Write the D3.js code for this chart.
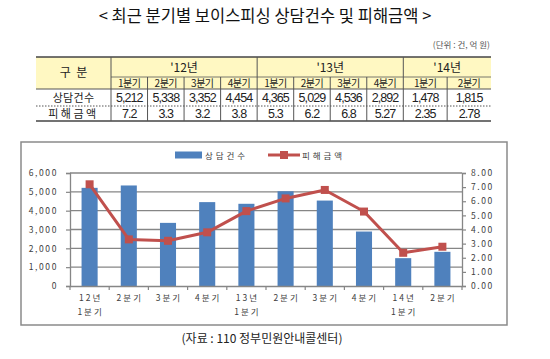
<!DOCTYPE html>
<html><head><meta charset="utf-8">
<script src="https://cdn.jsdelivr.net/npm/d3@7"></script>
<style>
html,body{margin:0;padding:0;background:#fff;}
svg{display:block;font-family:"Noto Sans CJK KR","Noto Sans",sans-serif;}
</style></head>
<body><svg id="c" width="550" height="359"></svg>
<script>
// ---- data ----
const title = "< 최근 분기별 보이스피싱 상담건수 및 피해금액 >";
const unitNote = "(단위 : 건, 억 원)";
const source = "(자료 : 110 정부민원안내콜센터)";
const years = ["'12년", "'13년", "'14년"];
const yearSpans = [4, 4, 2];
const quarters = ["1분기","2분기","3분기","4분기","1분기","2분기","3분기","4분기","1분기","2분기"];
const counts = [5212, 5338, 3352, 4454, 4365, 5029, 4536, 2892, 1478, 1815];
const countLabels = ["5,212","5,338","3,352","4,454","4,365","5,029","4,536","2,892","1,478","1,815"];
const damages = [7.2, 3.3, 3.2, 3.8, 5.3, 6.2, 6.8, 5.27, 2.35, 2.78];
const damageLabels = ["7.2","3.3","3.2","3.8","5.3","6.2","6.8","5.27","2.35","2.78"];
const rowNames = ["상담건수", "피해금액"];
const headName = "구  분";
const axisCats = [["12년","1분기"],["2분기"],["3분기"],["4분기"],["13년","1분기"],["2분기"],["3분기"],["4분기"],["14년","1분기"],["2분기"]];
const leftTicks = [0,1000,2000,3000,4000,5000,6000];
const rightTicks = [0,1,2,3,4,5,6,7,8];
const seriesNames = ["상 담 건 수", "피 해 금 액"];

const svg = d3.select("#c");
const blue = "#4F81BD", red = "#C0504D";
const numFont = "'Liberation Sans Narrow','Liberation Sans',Arial,sans-serif";

// ---- title ----
svg.append("text").attr("x", 265).attr("y", 22).attr("text-anchor","middle")
  .attr("font-size", 16.5).attr("fill","#111").text(title);
svg.append("text").attr("x", 490).attr("y", 48).attr("text-anchor","end")
  .attr("font-size", 8.5).attr("fill","#555").text(unitNote);

// ---- table ----
const tX0 = 36, tX1 = 491, c0 = 111;
const rowY = [57, 77, 89, 106, 121];
const colW = [1,1,1,1,1,1,1,1,1.2,1.2];
const totW = d3.sum(colW);
const colEdges = [c0];
colW.forEach((w,i)=>colEdges.push(colEdges[i] + w/totW*(tX1-c0)));
const tg = svg.append("g");
tg.append("rect").attr("x",tX0).attr("y",rowY[0]).attr("width",tX1-tX0).attr("height",rowY[2]-rowY[0]).attr("fill","#FFF8C2");
const lineC = "#555";
tg.append("line").attr("x1",tX0).attr("x2",tX1).attr("y1",rowY[0]).attr("y2",rowY[0]).attr("stroke","#444").attr("stroke-width",1.6);
tg.append("line").attr("x1",c0).attr("x2",tX1).attr("y1",rowY[1]).attr("y2",rowY[1]).attr("stroke",lineC).attr("stroke-width",0.8);
tg.append("line").attr("x1",tX0).attr("x2",tX1).attr("y1",rowY[2]).attr("y2",rowY[2]).attr("stroke",lineC).attr("stroke-width",1);
tg.append("line").attr("x1",tX0).attr("x2",tX1).attr("y1",rowY[3]).attr("y2",rowY[3]).attr("stroke",lineC).attr("stroke-width",1).attr("stroke-dasharray","1.5,1.5");
tg.append("line").attr("x1",tX0).attr("x2",tX1).attr("y1",rowY[4]).attr("y2",rowY[4]).attr("stroke","#444").attr("stroke-width",1.4);
tg.append("line").attr("x1",c0).attr("x2",c0).attr("y1",rowY[0]).attr("y2",rowY[4]).attr("stroke",lineC);
let acc = 0;
const yearEdges = [];
yearSpans.forEach(s=>{acc+=s; yearEdges.push(acc);});
colEdges.slice(1,-1).forEach((xv,i)=>{
  const isYear = yearEdges.includes(i+1);
  tg.append("line").attr("x1",xv).attr("x2",xv).attr("y1",isYear?rowY[0]:rowY[1]).attr("y2",rowY[4]).attr("stroke",lineC);
});
tg.append("text").attr("x",(tX0+c0)/2).attr("y",77).attr("text-anchor","middle").attr("font-size",12)
  .attr("fill","#222").attr("xml:space","preserve").style("white-space","pre").text(headName);
let start = 0;
years.forEach((y,i)=>{
  const xa = colEdges[start], xb = colEdges[start+yearSpans[i]];
  tg.append("text").attr("x",(xa+xb)/2).attr("y",72).attr("text-anchor","middle").attr("font-size",12).attr("fill","#222").text(y);
  start += yearSpans[i];
});
quarters.forEach((q,i)=>{
  const cx = (colEdges[i]+colEdges[i+1])/2;
  tg.append("text").attr("x",cx).attr("y",87.2).attr("text-anchor","middle").attr("font-size",10).attr("letter-spacing",-0.5).attr("fill","#222").text(q);
  tg.append("text").attr("x",cx).attr("y",102).attr("text-anchor","middle").attr("font-size",12.5).attr("letter-spacing",-0.9).attr("font-family",numFont).attr("fill","#222").text(countLabels[i]);
  tg.append("text").attr("x",cx).attr("y",118).attr("text-anchor","middle").attr("font-size",12.5).attr("letter-spacing",-0.9).attr("font-family",numFont).attr("fill","#222").text(damageLabels[i]);
});
tg.append("text").attr("x",(tX0+c0)/2).attr("y",102).attr("text-anchor","middle").attr("font-size",11).attr("letter-spacing",0.3).attr("fill","#222").text(rowNames[0]);
tg.append("text").attr("x",(tX0+c0)/2).attr("y",118.4).attr("text-anchor","middle").attr("font-size",11).attr("letter-spacing",2.5).attr("fill","#222").text(rowNames[1]);

// ---- chart ----
svg.append("rect").attr("x",21).attr("y",142).attr("width",486).attr("height",183)
  .attr("fill","#fff").attr("stroke","#8a8a8a").attr("stroke-width",1.5);

const pL = 70, pR = 462, pT = 173, pB = 286;
const x = d3.scaleBand().domain(d3.range(quarters.length)).range([pL,pR]);
const yL = d3.scaleLinear().domain([0,6000]).range([pB,pT]);
const yR = d3.scaleLinear().domain([0,8]).range([pB,pT]);
const gray = "#868686";
const axisFont = 8.5;

svg.append("g").selectAll("line").data(leftTicks.slice(1)).join("line")
  .attr("x1",pL).attr("x2",pR).attr("y1",d=>yL(d)).attr("y2",d=>yL(d))
  .attr("stroke",gray).attr("stroke-width",1.3);

const bw = x.bandwidth()*0.41;
svg.append("g").selectAll("rect").data(counts).join("rect")
  .attr("x",(d,i)=>x(i)+x.bandwidth()/2-bw/2).attr("width",bw)
  .attr("y",d=>yL(d)).attr("height",d=>pB-yL(d)).attr("fill",blue);

const gl = svg.append("g").attr("transform",`translate(${pL},0)`)
  .call(d3.axisLeft(yL).tickValues(leftTicks).tickSize(4).tickPadding(8).tickFormat(d3.format(",")));
const gr = svg.append("g").attr("transform",`translate(${pR},0)`)
  .call(d3.axisRight(yR).tickValues(rightTicks).tickSize(4).tickPadding(5).tickFormat(d3.format(".2f")));
const gb = svg.append("g").attr("transform",`translate(0,${pB})`)
  .call(d3.axisBottom(x).tickSize(0).tickFormat(""));
[gl,gr,gb].forEach(g=>{
  g.select(".domain").attr("stroke",gray).attr("stroke-width",1.3);
  g.selectAll(".tick line").attr("stroke",gray).attr("stroke-width",1.2);
  g.selectAll("text").attr("font-size",axisFont).attr("fill","#404040").attr("letter-spacing",1.6)
    .attr("font-family","'Noto Sans CJK KR',sans-serif");
});
svg.append("g").selectAll("line").data(d3.range(quarters.length+1)).join("line")
  .attr("x1",i=>pL+i*x.step()).attr("x2",i=>pL+i*x.step()).attr("y1",pB).attr("y2",pB+4)
  .attr("stroke",gray).attr("stroke-width",1.2);
const cl = svg.append("g").selectAll("text").data(axisCats).join("text")
  .attr("text-anchor","middle").attr("font-size",axisFont).attr("fill","#404040").attr("letter-spacing",2);
cl.each(function(d,i){
  const t = d3.select(this);
  d.forEach((s,j)=>{
    t.append("tspan").attr("x",x(i)+x.bandwidth()/2+1).attr("y",pB+15+j*14).text(s);
  });
});

const line = d3.line().x((d,i)=>x(i)+x.bandwidth()/2).y(d=>yR(d));
svg.append("path").datum(damages).attr("d",line).attr("fill","none")
  .attr("stroke",red).attr("stroke-width",3).attr("stroke-linejoin","round");
svg.append("g").selectAll("rect").data(damages).join("rect")
  .attr("x",(d,i)=>x(i)+x.bandwidth()/2-4).attr("y",d=>yR(d)-4)
  .attr("width",8).attr("height",8).attr("fill",red);

const lg = svg.append("g");
lg.append("rect").attr("x",175).attr("y",151.5).attr("width",27).attr("height",7).attr("fill",blue);
lg.append("text").attr("x",205).attr("y",158.5).attr("font-size",axisFont).attr("fill","#404040").attr("letter-spacing",0.5).text(seriesNames[0]);
lg.append("line").attr("x1",268).attr("x2",300).attr("y1",155).attr("y2",155).attr("stroke",red).attr("stroke-width",3);
lg.append("rect").attr("x",280).attr("y",151).attr("width",8).attr("height",8).attr("fill",red);
lg.append("text").attr("x",302).attr("y",158.5).attr("font-size",axisFont).attr("fill","#404040").attr("letter-spacing",0.5).text(seriesNames[1]);

svg.append("text").attr("x",262).attr("y",343).attr("text-anchor","middle")
  .attr("font-size",12).attr("fill","#222").text(source);
</script></body></html>
